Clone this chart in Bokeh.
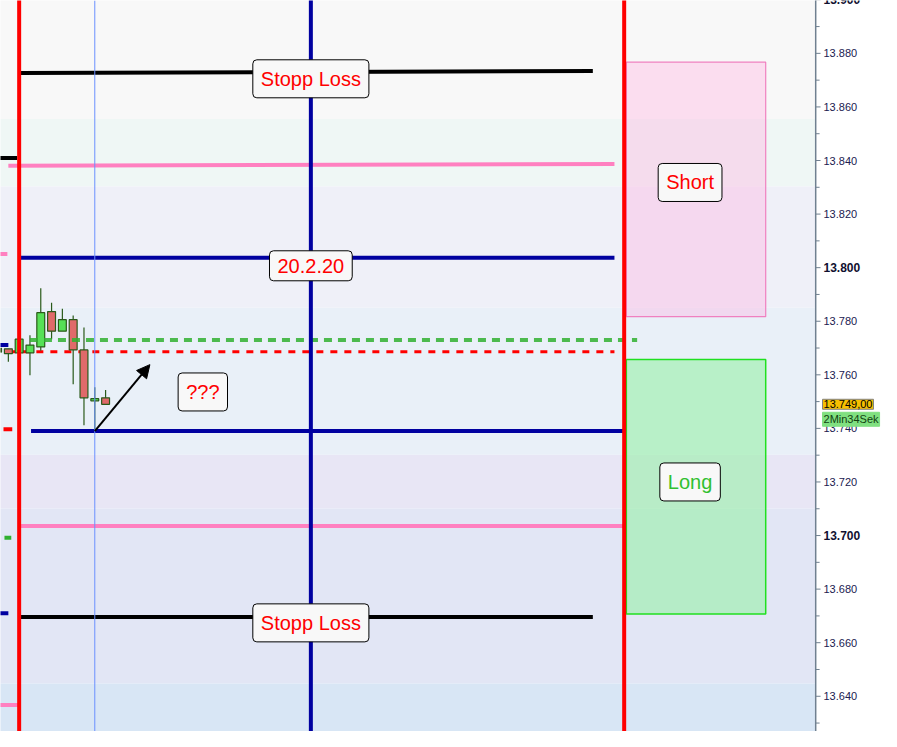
from bokeh.plotting import figure
from bokeh.models import Range1d, Label, Span, Arrow, NormalHead
from bokeh.core.properties import value
from bokeh.embed import file_html
from bokeh.resources import INLINE

# ---- data ----
bar_index = [-1, 0, 1, 2, 3, 4, 5, 6, 7, 8, 9]
opens  = [13769.9, 13769.7, 13768.2, 13768.2, 13770.4, 13783.6, 13776.3, 13780.6, 13769.3, 13750.3, 13751.4]
closes = [13768.5, 13767.9, 13773.3, 13771.1, 13783.2, 13776.3, 13780.6, 13769.3, 13751.4, 13751.1, 13749.0]
highs  = [13770.3, 13769.7, 13773.3, 13774.8, 13792.3, 13786.9, 13784.7, 13782.1, 13777.7, 13755.4, 13754.3]
lows   = [13768.0, 13764.9, 13768.2, 13759.8, 13769.0, 13773.3, 13780.6, 13756.5, 13741.2, 13739.0, 13749.0]

# stop-loss lines (top, bottom)
sl_x0 = [1.0, 1.0]
sl_x1 = [54.1, 54.1]
sl_y0 = [13872.7, 13669.6]
sl_y1 = [13873.4, 13669.6]
# pink lines
pink_x0 = [0.0, 1.0]
pink_x1 = [56.1, 57.0]
pink_y0 = [13838.0, 13703.6]
pink_y1 = [13838.7, 13703.6]
# dark blue lines (20.2.20 and low)
blue_x0 = [1.0, 2.1]
blue_x1 = [56.1, 57.0]
blue_y = [13803.7, 13739.0]
# dashed lines
green_dash_x = [2.0, 58.2]
green_dash_y = 13773.0
red_dash_x = [0.0, 56.1]
red_dash_y = 13768.6

# left-edge stubs of earlier drawings
stub_x0 = [-1.0, -1.0, -1.0, -0.45, -0.36, -1.0, -1.0]
stub_x1 = [0.82, -0.09, 0.0, 0.36, 0.27, 0.0, 0.9]
stub_y = [13840.9, 13805.1, 13771.1, 13739.7, 13699.2, 13671.0, 13636.7]
stub_colors = ["#000000", "#ff80c0", "#0000a0", "#ff0000", "#30b030", "#0000a0", "#ff80c0"]

# vertical markers
red_vlines = [1, 57]
blue_vline = [28]
thin_vline = [8]

# zones
short_zone = dict(left=57.2, right=70.1, bottom=13781.7, top=13876.7)
long_zone = dict(left=57.2, right=70.1, bottom=13670.7, top=13765.7)

# text boxes
label_texts = ["Stopp Loss", "20.2.20", "Stopp Loss", "???", "Short", "Long"]
label_x = [28, 28, 28, 18, 63.1, 63.1]
label_y = [13870.5, 13800.7, 13667.4, 13753.6, 13831.8, 13720.0]
label_colors = ["#ff0000", "#ff0000", "#ff0000", "#ff0000", "#ff0000", "#30c030"]

# arrow
arrow_start = (8, 13739.0)
arrow_end = (13.1, 13763.8)

# background bands
band_bottom = [13855.5, 13830.3, 13785.0, 13730.2, 13710.1, 13644.8, 13600.0]
band_top = [13910.0, 13855.5, 13830.3, 13785.0, 13730.2, 13710.1, 13644.8]
band_colors = ["#f8f8f8", "#eff7f5", "#eff0f8", "#e9f0f8", "#e8e6f5", "#e2e6f5", "#d8e6f5"]

# price axis
tick_values = [13640, 13660, 13680, 13700, 13720, 13740, 13760, 13780, 13800, 13820, 13840, 13860, 13880, 13900]
tick_labels = ["13.640", "13.660", "13.680", "13.700", "13.720", "13.740", "13.760", "13.780",
               "13.800", "13.820", "13.840", "13.860", "13.880", "13.900"]
bold_ticks = [13700, 13800, 13900]
minor_values = [13630 + 10 * k for k in range(28)]

last_price = 13749.0
last_price_text = "13.749,00"
countdown_text = "2Min34Sek"

# ---- layout constants (positions in bar units) ----
X0, X1 = -0.727, 80.818
Y0, Y1 = 13626.85, 13899.73
AXIS_X = 74.727
MAJOR_TICK = 0.45
MINOR_TICK = 0.36
LABEL_X = 75.45
TAG_X = 75.36

p = figure(width=881, height=731, output_backend="svg", toolbar_location=None,
           x_range=Range1d(X0, X1), y_range=Range1d(Y0, Y1),
           x_axis_location=None, y_axis_location=None,
           min_border_left=0, min_border_right=0, min_border_top=0, min_border_bottom=0)
p.grid.visible = False
p.outline_line_color = None
p.background_fill_color = "#ffffff"
p.border_fill_color = "#ffffff"

# background
p.quad(left=X0 - 1, right=AXIS_X, bottom=band_bottom, top=band_top, fill_color=band_colors, line_color=None)

# zones
p.quad(left=[short_zone["left"]], right=[short_zone["right"]], bottom=[short_zone["bottom"]],
       top=[short_zone["top"]], fill_color="#ffb0e0", fill_alpha=0.38, line_color="#f080c0", line_width=1.2)
p.quad(left=[long_zone["left"]], right=[long_zone["right"]], bottom=[long_zone["bottom"]],
       top=[long_zone["top"]], fill_color="#90f0a0", fill_alpha=0.55, line_color="#20e020", line_width=1.5)

# horizontal lines
p.segment(x0=stub_x0, x1=stub_x1, y0=stub_y, y1=stub_y, line_color=stub_colors, line_width=4)
p.segment(x0=pink_x0, x1=pink_x1, y0=pink_y0, y1=pink_y1, line_color="#ff80c0", line_width=4)
p.segment(x0=sl_x0, x1=sl_x1, y0=sl_y0, y1=sl_y1, line_color="#000000", line_width=4)
p.segment(x0=blue_x0, x1=blue_x1, y0=blue_y, y1=blue_y, line_color="#0000a0", line_width=4)
p.line(x=red_dash_x, y=[red_dash_y, red_dash_y], line_color="#ff0000", line_width=3, line_dash="7 7")

# thin vertical marker
for xv in thin_vline:
    p.add_layout(Span(location=xv, dimension="height", line_color="#6a90ff", line_width=1))

# candles
up = [c >= o for o, c in zip(opens, closes)]
body_top = [max(o, c) for o, c in zip(opens, closes)]
body_bot = [min(o, c) for o, c in zip(opens, closes)]
body_col = ["#56e056" if u else "#e06a6a" for u in up]
p.segment(x0=bar_index, x1=bar_index, y0=lows, y1=highs, line_color="#2a5a1a", line_width=1.2)
p.vbar(x=bar_index, width=0.73, top=body_top, bottom=body_bot, fill_color=body_col,
       line_color="#2a5a1a", line_width=1.2)

p.line(x=green_dash_x, y=[green_dash_y, green_dash_y], line_color="#30b030", line_alpha=0.85,
       line_width=4, line_dash="8 6")

# vertical lines
p.segment(x0=blue_vline, x1=blue_vline, y0=[Y0 - 5] * len(blue_vline), y1=[Y1 + 5] * len(blue_vline),
          line_color="#0000a0", line_width=4)
p.segment(x0=red_vlines, x1=red_vlines, y0=[Y0 - 5] * len(red_vlines), y1=[Y1 + 5] * len(red_vlines),
          line_color="#ff0000", line_width=4)

# arrow
p.add_layout(Arrow(end=NormalHead(size=13, fill_color="black", line_color="black"),
                   x_start=arrow_start[0], y_start=arrow_start[1], x_end=arrow_end[0], y_end=arrow_end[1],
                   line_color="black", line_width=2))

# text boxes
for t, xv, yv, c in zip(label_texts, label_x, label_y, label_colors):
    p.add_layout(Label(x=xv, y=yv, text=t, text_align="center", text_baseline="middle",
                       text_font="Liberation Sans", text_font_size="20px", text_color=c,
                       background_fill_color="#f8f8f8", border_line_color="#000000", border_line_width=1,
                       border_radius=4, padding=8))

# price axis (right side)
p.segment(x0=[AXIS_X], x1=[AXIS_X], y0=[Y0 - 5], y1=[Y1 + 5], line_color="#708090", line_width=1.5)
p.segment(x0=[AXIS_X] * len(tick_values), x1=[AXIS_X + MAJOR_TICK] * len(tick_values),
          y0=tick_values, y1=tick_values, line_color="#708090", line_width=1)
minor_only = [m for m in minor_values if m not in tick_values]
p.segment(x0=[AXIS_X] * len(minor_only), x1=[AXIS_X + MINOR_TICK] * len(minor_only),
          y0=minor_only, y1=minor_only, line_color="#708090", line_width=1)

norm_y = [v for v in tick_values if v not in bold_ticks]
norm_t = [s for v, s in zip(tick_values, tick_labels) if v not in bold_ticks]
bold_y = [v for v in tick_values if v in bold_ticks]
bold_t = [s for v, s in zip(tick_values, tick_labels) if v in bold_ticks]
p.text(x=[LABEL_X] * len(norm_y), y=norm_y, text=norm_t, text_font=value("Liberation Sans"),
       text_font_size="11px", text_color="#202050", text_align="left", text_baseline="middle")
p.text(x=[LABEL_X] * len(bold_y), y=bold_y, text=bold_t, text_font=value("Liberation Sans"),
       text_font_size="12px", text_font_style="bold", text_color="#101030",
       text_align="left", text_baseline="middle")

# price tag
p.add_layout(Label(x=TAG_X, y=last_price, text=last_price_text, text_align="left",
                   text_baseline="middle", text_font="Liberation Sans", text_font_size="11px",
                   text_color="#000000", background_fill_color="#f8c000", border_line_color="#808080",
                   padding=1))
p.add_layout(Label(x=TAG_X, y=last_price, y_offset=-15, text=countdown_text,
                   text_align="left", text_baseline="middle", text_font="Liberation Sans",
                   text_font_size="11px", text_color="#104010", background_fill_color="#80e080",
                   border_line_color="#80e080", padding=1))

open("out.html", "w").write(file_html(p, INLINE))
